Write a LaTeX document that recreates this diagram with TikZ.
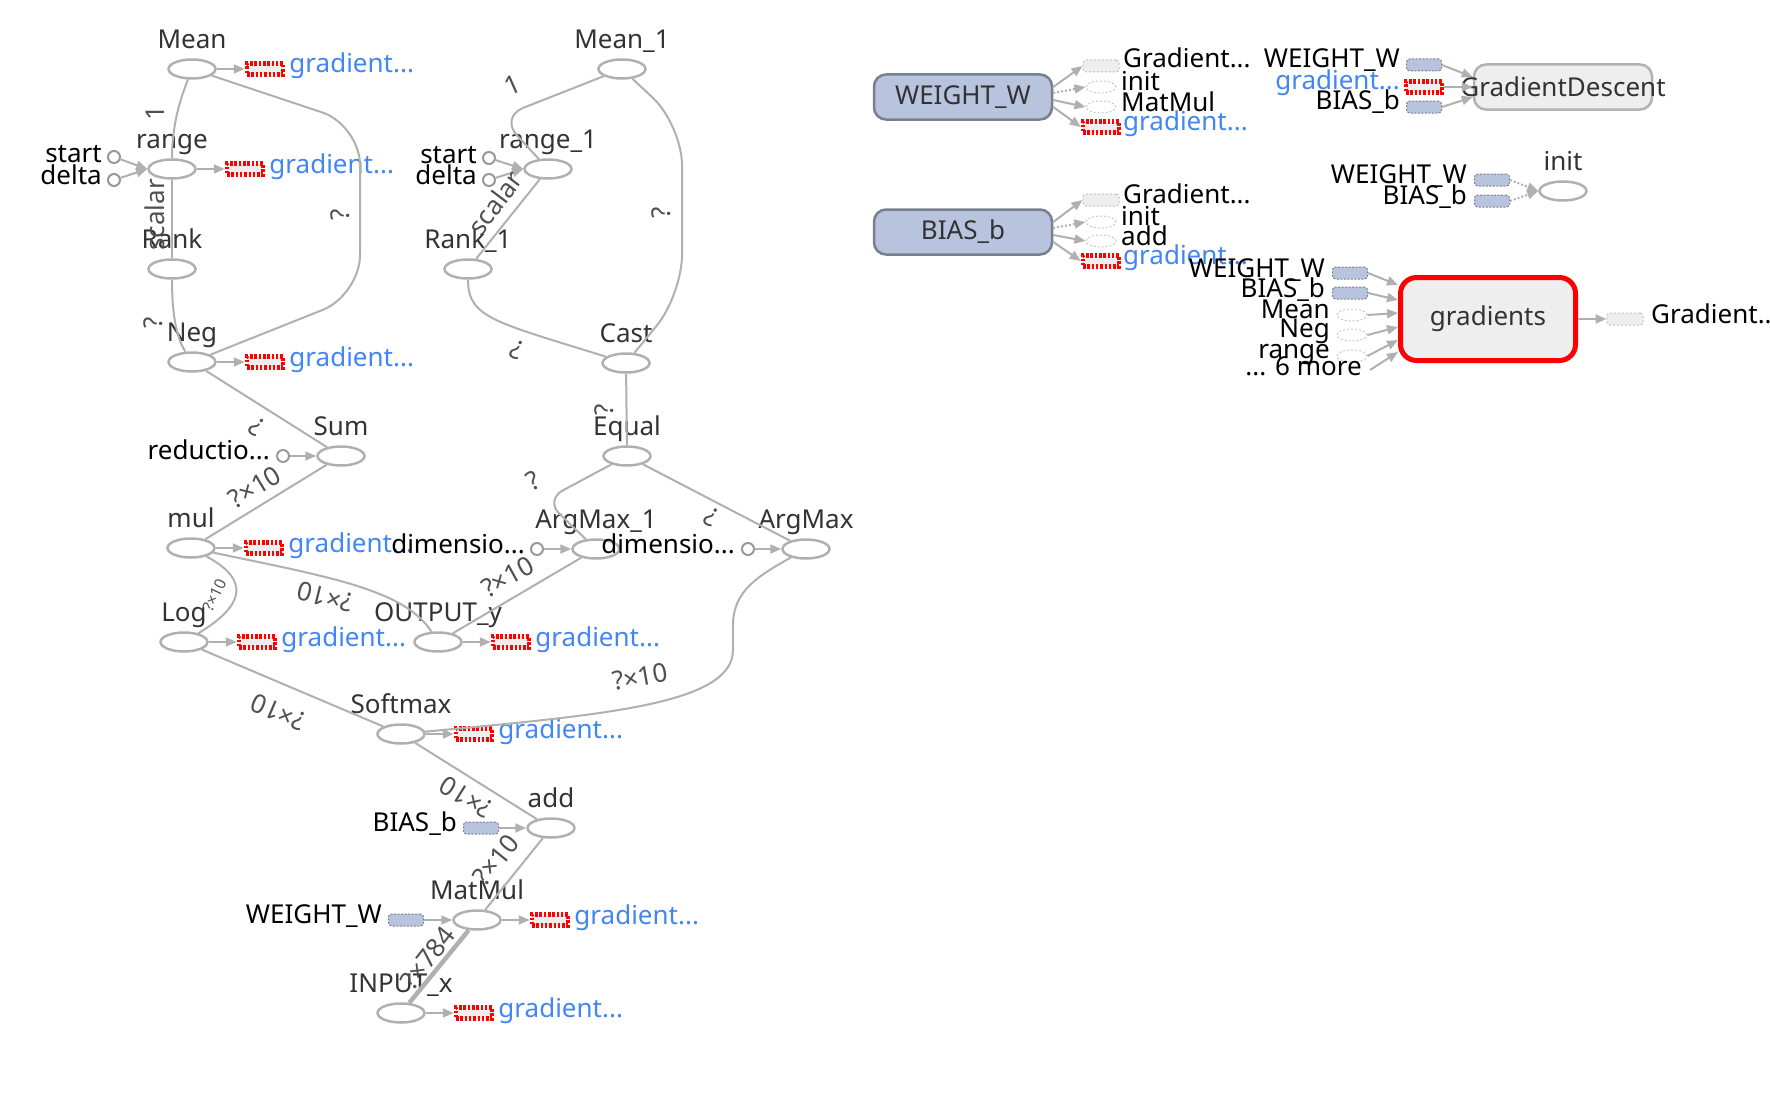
\documentclass[tikz,border=0pt]{standalone}
\usepackage{fontspec}
\setmainfont{Noto Sans}
\usetikzlibrary{arrows.meta,positioning,shapes.geometric,calc}
\definecolor{tbblue}{RGB}{66,133,244}
\definecolor{tbvar}{RGB}{184,195,221}
\definecolor{tbvarline}{RGB}{120,128,142}
\definecolor{tbline}{RGB}{176,176,176}
\definecolor{tbtext}{RGB}{51,51,51}
\definecolor{tblabel}{RGB}{80,80,80}
\definecolor{tbfill}{RGB}{238,238,238}

\begin{document}
\begin{tikzpicture}[
        x=1pt, y=-1pt,
        font=\fontsize{26}{28}\selectfont,
        >={Triangle[length=11pt,width=9pt]},
        op/.style={ellipse,draw=tbline,line width=2.5pt,fill=white,minimum width=47pt,minimum height=19pt,inner sep=0pt,
            label={[text=tbtext,anchor=base,label distance=10pt]above:#1}},
        gradbox/.style={rectangle,draw=red,fill=tbfill,line width=4.5pt,dash pattern=on 2.5pt off 1.8pt,minimum width=36pt,minimum height=11pt,inner sep=0pt},
        gradtext/.style={anchor=base west,text=tbblue,inner sep=0pt},
        const/.style={circle,draw=gray!80,line width=2pt,fill=white,minimum size=12pt,inner sep=0pt},
        var/.style={rectangle,rounded corners=3pt,draw=tbvarline,dash pattern=on 2pt off 1.5pt,line width=1pt,fill=tbvar,minimum width=35pt,minimum height=12pt,inner sep=0pt},
        cname/.style={anchor=base east,inner sep=0pt},
        sname/.style={anchor=base west,inner sep=0pt},
        elab/.style={text=tblabel,inner sep=0pt},
        link/.style={draw=tbline,line width=2pt},
        inarrow/.style={->,draw=tbline,line width=2pt},
        dotarrow/.style={inarrow,dash pattern=on 2pt off 2pt},
        bigvar/.style={rectangle,rounded corners=12pt,draw=tbvarline,line width=2.5pt,fill=tbvar,text=tbtext,minimum width=178pt,minimum height=45pt},
        opgroup/.style={rectangle,rounded corners=12pt,draw=gray!60,line width=2.5pt,fill=tbfill,minimum width=178pt,minimum height=45pt},
        gradgroup/.style={rectangle,rounded corners=16pt,draw=red,line width=5pt,fill=tbfill,text=tbtext,minimum width=175pt,minimum height=83pt},
        sumell/.style={ellipse,draw=gray!45,dash pattern=on 2pt off 2pt,line width=1pt,minimum width=30pt,minimum height=12pt,inner sep=0pt},
        sumrect/.style={rectangle,rounded corners=3pt,draw=gray!50,dash pattern=on 2pt off 2pt,line width=1pt,fill=tbfill,minimum width=36pt,minimum height=12pt,inner sep=0pt}
    ]
    \useasboundingbox (0,0) rectangle (1770,1108);

    \node[op=Mean] (mean) at (192,69) {};
    \node[op=range] (range) at (172,169) {};
    \node[op=Rank] (rank) at (172,269) {};
    \node[op=Neg] (neg) at (192,362) {};
    \node[op=Sum] (sum) at (341,456) {};
    \node[op=mul] (mul) at (191,548) {};
    \node[op=Log] (log) at (184,642) {};
    \node[op=OUTPUT\_y] (outy) at (438,642) {};
    \node[op=Softmax] (softmax) at (401,734) {};
    \node[op=add] (add) at (551,828) {};
    \node[op=MatMul] (matmul) at (477,920) {};
    \node[op=INPUT\_x] (inputx) at (401,1013) {};
    \node[op=Mean\_1] (mean1) at (622,69) {};
    \node[op=range\_1] (range1) at (548,169) {};
    \node[op=Rank\_1] (rank1) at (468,269) {};
    \node[op=Cast] (cast) at (626,363) {};
    \node[op=Equal] (equal) at (627,456) {};
    \node[op=ArgMax\_1] (argmax1) at (596,549) {};
    \node[op=ArgMax] (argmax) at (806,549) {};

    \foreach \n in {mean,range,neg,mul,log,outy,softmax,matmul,inputx}{
        \node[gradbox,right=28pt of \n] (g\n) {};
        \node[gradtext] (t\n) at ([xshift=4pt,yshift=-4pt]g\n.east) {gradient...};
        \draw[inarrow] (\n) -- (g\n);
    }

    \node[const] (start) at (114,157) {};
    \node[const] (delta) at (114,180) {};
    \node[cname] (lstart) at (102,162) {start};
    \node[cname] (ldelta) at (102,184) {delta};
    \draw[inarrow] (start) -- (range.west);
    \draw[inarrow] (delta) -- (range.west);
    \node[const] (start1) at (489,158) {};
    \node[const] (delta1) at (489,180) {};
    \node[cname] (lstart1) at (477,163) {start};
    \node[cname] (ldelta1) at (477,184) {delta};
    \draw[inarrow] (start1) -- (range1.west);
    \draw[inarrow] (delta1) -- (range1.west);
    \node[const] (reduc) at (283,456) {};
    \node[cname] (lreduc) at (270,459) {reductio...};
    \draw[inarrow] (reduc) -- (sum);
    \node[const] (dim1) at (537,549) {};
    \node[cname] (ldim1) at (525,553) {dimensio...};
    \draw[inarrow] (dim1) -- (argmax1);
    \node[const] (dim2) at (748,549) {};
    \node[cname] (ldim2) at (735,553) {dimensio...};
    \draw[inarrow] (dim2) -- (argmax);
    \node[var] (biasin) at (481,828) {};
    \node[cname] (lbiasin) at (457,831) {BIAS\_b};
    \draw[inarrow] (biasin) -- (add);
    \node[var] (weightin) at (406,920) {};
    \node[cname] (lweightin) at (382,923) {WEIGHT\_W};
    \draw[inarrow] (weightin) -- (matmul);

    \draw[link] (mean) .. controls (180,100) and (172,125) .. (range);
    \draw[link] (range) -- (rank);
    \draw[link] (rank) .. controls (172,320) and (178,340) .. (neg);
    \draw[link,rounded corners=40pt] (mean) -- (360,125) -- (360,295) -- (neg);
    \draw[link] (neg) -- (sum);
    \draw[link] (mul) -- (sum);
    \draw[link] (mul) .. controls (250,580) and (245,605) .. (log);
    \draw[link] (mul) .. controls (330,577) and (405,590) .. (outy);
    \draw[link] (log) -- (softmax);
    \draw[link] (outy) -- (argmax1);
    \draw[link] (argmax) .. controls (760,575) and (733,590) .. (733,625) -- (733,650) .. controls (733,705) and (600,715) .. (softmax);
    \draw[link] (add) -- (softmax);
    \draw[link] (matmul) -- (add);
    \draw[link,line width=4.5pt] (inputx) -- (matmul);
    \draw[link,rounded corners=25pt] (mean1) -- (500,117) -- (range1);
    \draw[link] (range1) -- (rank1);
    \draw[link] (rank1) .. controls (468,318) and (495,322) .. (cast);
    \draw[link,rounded corners=40pt] (mean1) -- (682,125) -- (682,295) -- (cast);
    \draw[link] (cast) -- (equal);
    \draw[link,rounded corners=20pt] (equal) -- (545,500) -- (argmax1);
    \draw[link] (equal) -- (argmax);

    \node[elab,rotate=90] (l1) at (155,113) {1};
    \node[elab,rotate=90] (l2) at (155,215) {scalar};
    \node[elab,rotate=90] (l3) at (340,215) {?};
    \node[elab,rotate=90] (l4) at (153,323) {?};
    \node[elab,rotate=24] (l5) at (513,85) {1};
    \node[elab,rotate=53] (l6) at (495,203) {scalar};
    \node[elab,rotate=157] (l7) at (517,350) {?};
    \node[elab,rotate=90] (l8) at (661,213) {?};
    \node[elab,rotate=145] (l9) at (257,427) {?};
    \node[elab,rotate=31] (l10) at (255,487) {?×10};
    \node[elab,rotate=65,scale=.6] (l11) at (215,595) {?×10};
    \node[elab,rotate=166] (l12) at (325,597) {?×10};
    \node[elab,rotate=29] (l13) at (508,577) {?×10};
    \node[elab,rotate=28] (l14) at (533,481) {?};
    \node[elab,rotate=152] (l15) at (711,517) {?};
    \node[elab,rotate=90] (l16) at (604,410) {?};
    \node[elab,rotate=10] (l17) at (640,677) {?×10};
    \node[elab,rotate=157] (l18) at (278,712) {?×10};
    \node[elab,rotate=148] (l19) at (466,797) {?×10};
    \node[elab,rotate=51] (l20) at (496,860) {?×10};
    \node[elab,rotate=52] (l21) at (428,958) {?×784};

    \node[bigvar] (wbox) at (963,97) {WEIGHT\_W};
    \node[sumrect] (wgd) at (1101,66) {};
    \node[sumell] (winit) at (1101,87) {};
    \node[sumell] (wmm) at (1101,107) {};
    \node[gradbox] (wgr) at (1101,127) {};
    \node[sname] (lwgd) at (1123,68) {Gradient...};
    \node[sname] (lwinit) at (1121,90) {init};
    \node[sname] (lwmm) at (1121,111) {MatMul};
    \node[sname,text=tbblue] (lwgr) at (1123,130) {gradient...};
    \draw[inarrow] ([yshift=10pt]wbox.east) -- (wgd.west);
    \draw[dotarrow] ([yshift=4pt]wbox.east) -- (winit.west);
    \draw[inarrow] ([yshift=-3pt]wbox.east) -- (wmm.west);
    \draw[inarrow] ([yshift=-10pt]wbox.east) -- (wgr.west);

    \node[bigvar] (bbox) at (963,232) {BIAS\_b};
    \node[sumrect] (bgd) at (1101,200) {};
    \node[sumell] (binit) at (1101,222) {};
    \node[sumell] (badd) at (1101,241) {};
    \node[gradbox] (bgr) at (1101,261) {};
    \node[sname] (lbgd) at (1123,203) {Gradient...};
    \node[sname] (lbinit) at (1121,225) {init};
    \node[sname] (lbadd) at (1121,245) {add};
    \node[sname,text=tbblue] (lbgr) at (1123,264) {gradient...};
    \draw[inarrow] ([yshift=10pt]bbox.east) -- (bgd.west);
    \draw[dotarrow] ([yshift=4pt]bbox.east) -- (binit.west);
    \draw[inarrow] ([yshift=-3pt]bbox.east) -- (badd.west);
    \draw[inarrow] ([yshift=-10pt]bbox.east) -- (bgr.west);

    \node[opgroup] (gd) at (1563,87) {};
    \node[text=tbtext,inner sep=0pt] (gdlbl) at (gd.center) {GradientDescent};
    \node[var] (gdw) at (1424,65) {};
    \node[gradbox] (gdg) at (1424,87) {};
    \node[var] (gdb) at (1424,107) {};
    \node[cname] (lgdw) at (1400,67) {WEIGHT\_W};
    \node[cname,text=tbblue] (lgdg) at (1400,89) {gradient...};
    \node[cname] (lgdb) at (1400,110) {BIAS\_b};
    \draw[inarrow] (gdw.east) -- ([yshift=10pt]gd.west);
    \draw[inarrow] (gdg.east) -- (gd.west);
    \draw[inarrow] (gdb.east) -- ([yshift=-10pt]gd.west);

    \node[op=init] (initop) at (1563,191) {};
    \node[var] (iw) at (1492,180) {};
    \node[var] (ib) at (1492,201) {};
    \node[cname] (liw) at (1467,183) {WEIGHT\_W};
    \node[cname] (lib) at (1467,204) {BIAS\_b};
    \draw[dotarrow] (iw.east) -- (initop.west);
    \draw[dotarrow] (ib.east) -- (initop.west);

    \node[gradgroup] (grads) at (1488,319) {gradients};
    \node[var] (gw) at (1350,273) {};
    \node[var] (gb) at (1350,293) {};
    \node[sumell] (gm) at (1352,315) {};
    \node[sumell] (gn) at (1352,335) {};
    \node[sumell] (gr) at (1352,356) {};
    \coordinate (gmore) at (1370,370);
    \node[cname] (lgw) at (1325,277) {WEIGHT\_W};
    \node[cname] (lgb) at (1325,297) {BIAS\_b};
    \node[cname] (lgm) at (1330,318) {Mean};
    \node[cname] (lgn) at (1330,337) {Neg};
    \node[cname] (lgr) at (1330,358) {range};
    \node[cname] (lgmore) at (1362,375) {... 6 more};
    \draw[inarrow] (gw.east) -- ([yshift=34pt]grads.west);
    \draw[inarrow] (gb.east) -- ([yshift=19pt]grads.west);
    \draw[inarrow] (gm.east) -- ([yshift=6pt]grads.west);
    \draw[inarrow] (gn.east) -- ([yshift=-8pt]grads.west);
    \draw[inarrow] (gr.east) -- ([yshift=-21pt]grads.west);
    \draw[inarrow] (gmore) -- ([yshift=-33pt]grads.west);
    \node[sumrect] (gout) at (1625,319) {};
    \node[sname] (lgout) at (1651,323) {Gradient...};
    \draw[inarrow] (grads.east) -- (gout.west);
\end{tikzpicture}
\end{document}
